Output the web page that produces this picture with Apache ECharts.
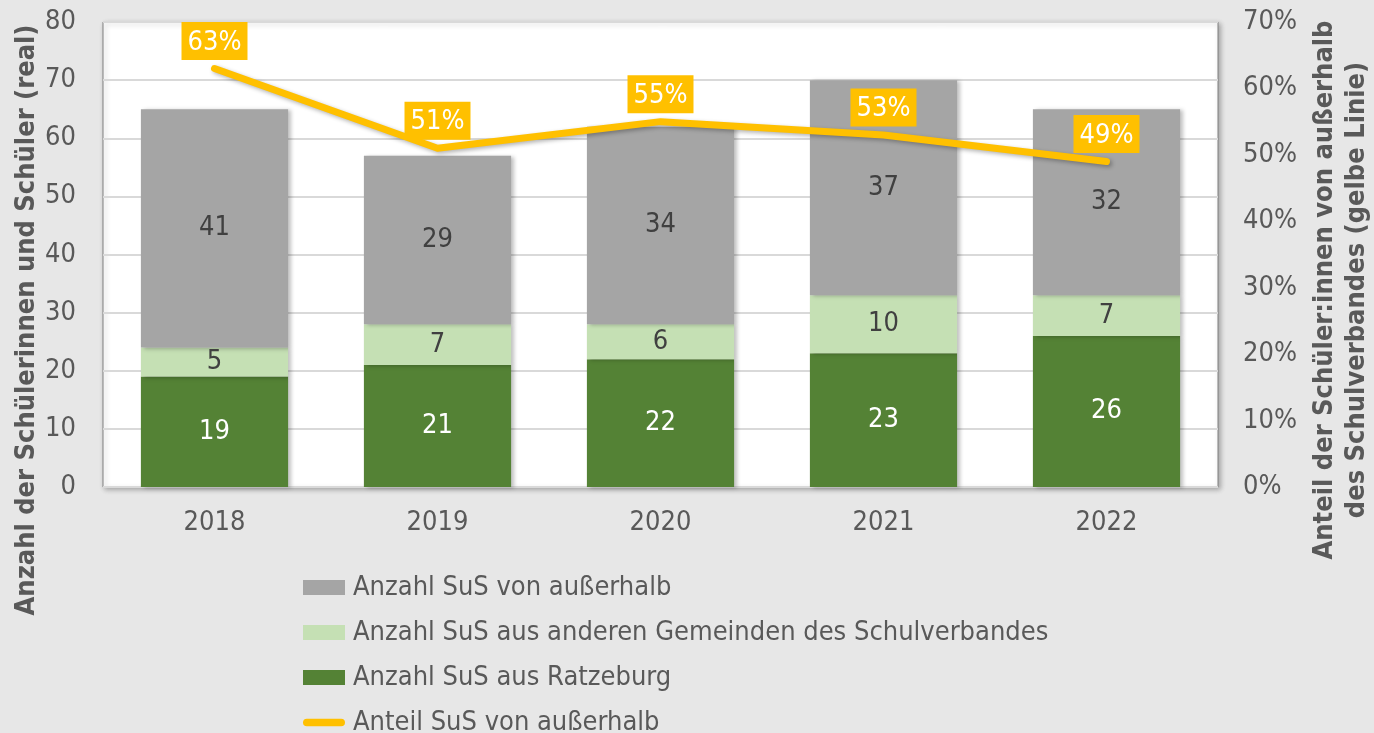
<!DOCTYPE html>
<html>
<head>
<meta charset="utf-8">
<script src="https://cdn.jsdelivr.net/npm/echarts@6/dist/echarts.min.js"></script>
<style>
  html, body { margin: 0; padding: 0; background: #e7e7e7; }
  #chart { width: 1374px; height: 733px; }
</style>
</head>
<body>
<div id="chart"></div>
<script>
var years = ["2018", "2019", "2020", "2021", "2022"];
var ratzeburg = [19, 21, 22, 23, 26];
var andereGemeinden = [5, 7, 6, 10, 7];
var ausserhalb = [41, 29, 34, 37, 32];
var anteilAusserhalb = [63, 51, 55, 53, 49]; // Prozent

var FONT = "DejaVu Sans Condensed";
var TXT = "#595959";

var myChart = echarts.init(document.getElementById("chart"));

var barShadow = {
  shadowColor: "rgba(0,0,0,0.25)",
  shadowBlur: 4,
  shadowOffsetX: 3,
  shadowOffsetY: 1
};

var option = {
  backgroundColor: "#e7e7e7",
  animation: false,
  textStyle: { fontFamily: FONT },
  grid: {
    left: 103,
    right: 156,
    top: 22,
    bottom: 246,
    show: true,
    backgroundColor: "#ffffff",
    borderColor: "#808080",
    borderWidth: 1,
    shadowColor: "rgba(0,0,0,0.3)",
    shadowBlur: 5,
    shadowOffsetX: 2,
    shadowOffsetY: 2
  },
  legend: {
    orient: "vertical",
    left: 298,
    top: 569,
    height: 200,
    itemGap: 18,
    itemWidth: 42,
    itemHeight: 15,
    textStyle: { fontFamily: FONT, fontSize: 27, color: TXT, padding: [0, 0, 0, 3] },
    data: [
      { name: "Anzahl SuS von außerhalb", icon: "rect" },
      { name: "Anzahl SuS aus anderen Gemeinden des Schulverbandes", icon: "rect" },
      { name: "Anzahl SuS aus Ratzeburg", icon: "rect" },
      { name: "Anteil SuS von außerhalb", icon: "path://M4,0 h36 a4,4 0 0 1 0,8 h-36 a4,4 0 0 1 0,-8z" }
    ]
  },
  xAxis: {
    type: "category",
    data: years,
    axisLine: { show: false },
    axisTick: { show: false },
    axisLabel: { fontFamily: FONT, fontSize: 27, color: TXT, margin: 22 }
  },
  yAxis: [
    {
      type: "value",
      min: 0,
      max: 80,
      interval: 10,
      axisLine: { show: false },
      axisTick: { show: false },
      splitLine: { lineStyle: { color: "#d9d9d9", width: 2 } },
      axisLabel: { fontFamily: FONT, fontSize: 27, color: TXT, margin: 27 }
    },
    {
      type: "value",
      min: 0,
      max: 70,
      interval: 10,
      axisLine: { show: false },
      axisTick: { show: false },
      splitLine: { show: false },
      axisLabel: {
        fontFamily: FONT, fontSize: 27, color: TXT, margin: 25,
        formatter: "{value}%"
      }
    }
  ],
  series: [
    {
      name: "Anzahl SuS aus Ratzeburg",
      type: "bar",
      stack: "sus",
      barWidth: "66%",
      data: ratzeburg,
      itemStyle: Object.assign({ color: "#548235" }, barShadow),
      label: { show: true, position: "inside", fontFamily: FONT, fontSize: 27, color: "#ffffff" }
    },
    {
      name: "Anzahl SuS aus anderen Gemeinden des Schulverbandes",
      type: "bar",
      stack: "sus",
      data: andereGemeinden,
      itemStyle: Object.assign({ color: "#c5e0b4" }, barShadow),
      label: { show: true, position: "inside", fontFamily: FONT, fontSize: 27, color: "#404040" }
    },
    {
      name: "Anzahl SuS von außerhalb",
      type: "bar",
      stack: "sus",
      data: ausserhalb,
      itemStyle: Object.assign({ color: "#a5a5a5" }, barShadow),
      label: { show: true, position: "inside", fontFamily: FONT, fontSize: 27, color: "#404040" }
    },
    {
      name: "Anteil SuS von außerhalb",
      type: "line",
      yAxisIndex: 1,
      data: anteilAusserhalb,
      symbol: "circle",
      symbolSize: 1,
      showSymbol: true,
      z: 5,
      itemStyle: { color: "#ffc000" },
      lineStyle: {
        color: "#ffc000",
        width: 7,
        cap: "round",
        join: "round",
        shadowColor: "rgba(0,0,0,0.3)",
        shadowBlur: 4,
        shadowOffsetX: 2,
        shadowOffsetY: 2
      },
      label: {
        show: true,
        position: "top",
        distance: 8,
        formatter: "{c}%",
        fontFamily: FONT,
        fontSize: 27,
        color: "#ffffff",
        backgroundColor: "#ffc000",
        padding: [7, 6, 4, 6]
      }
    }
  ],
  graphic: [
    {
      type: "text",
      x: 27,
      y: 320,
      rotation: Math.PI / 2,
      style: {
        text: "Anzahl der Schülerinnen und Schüler (real)",
        font: "bold 27px " + FONT,
        fill: TXT,
        align: "center",
        verticalAlign: "middle"
      }
    },
    {
      type: "text",
      x: 1341,
      y: 290,
      rotation: Math.PI / 2,
      style: {
        text: "Anteil der Schüler:innen von außerhalb\ndes Schulverbandes (gelbe Linie)",
        font: "bold 27px " + FONT,
        fill: TXT,
        align: "center",
        verticalAlign: "middle",
        lineHeight: 32
      }
    }
  ]
};

myChart.setOption(option);
</script>
</body>
</html>
